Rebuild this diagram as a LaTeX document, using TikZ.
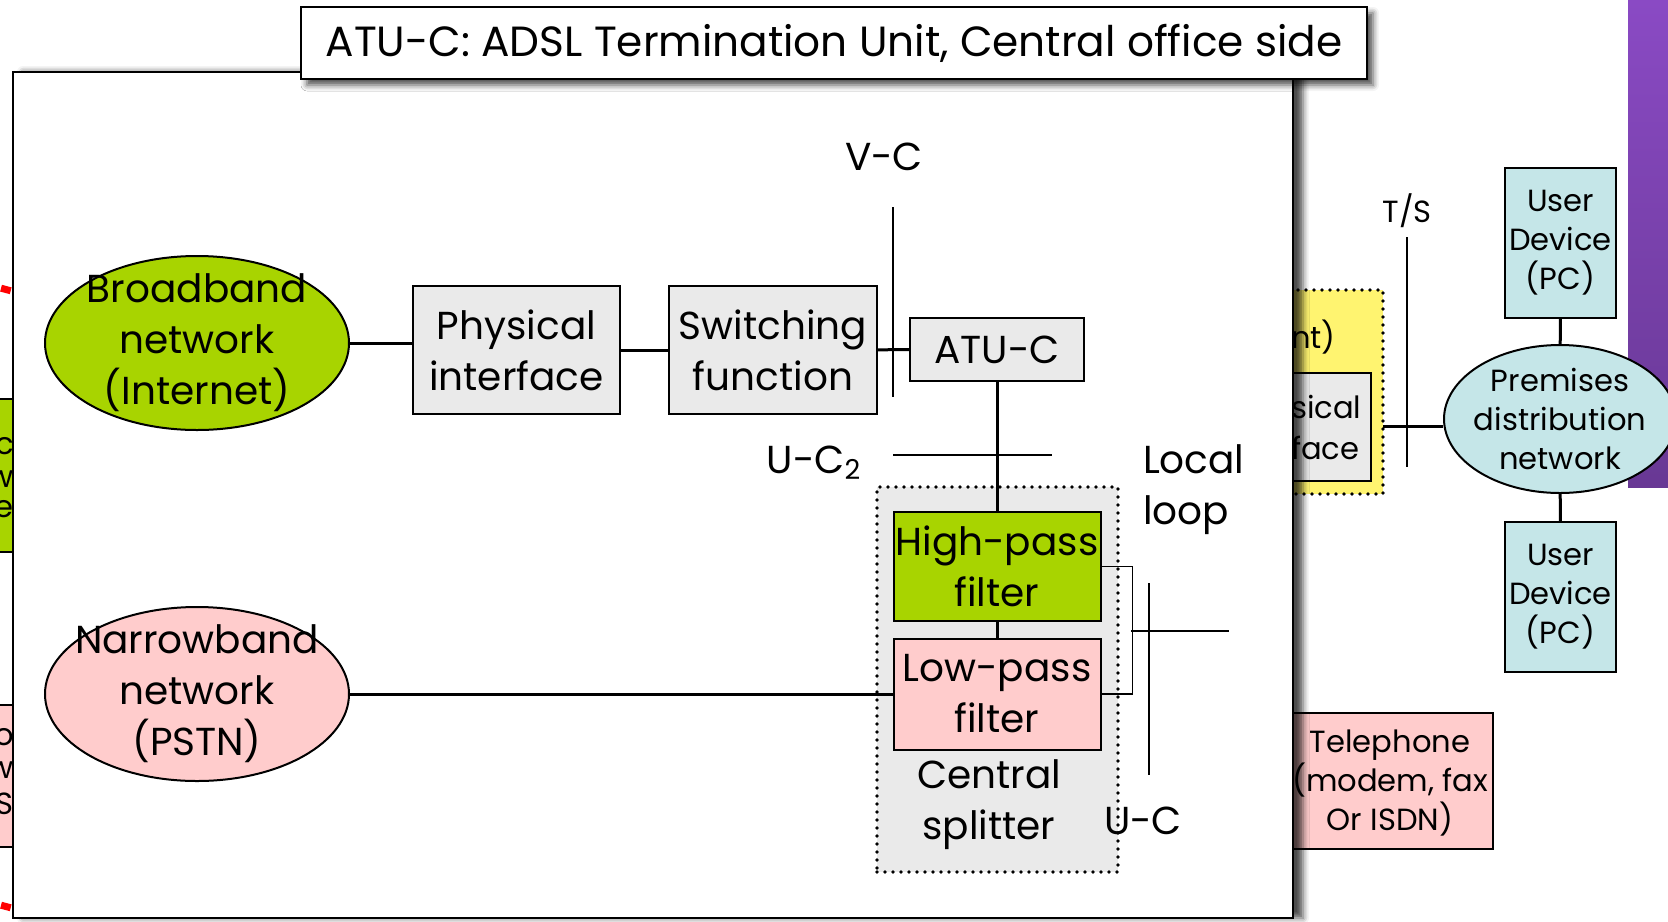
\documentclass[tikz,border=0pt]{standalone}
\usepackage{fontspec}
\setmainfont{Poppins}
\usetikzlibrary{shapes.geometric,shadows.blur}

\definecolor{bbgreen}{RGB}{168,212,0}
\definecolor{nbpink}{RGB}{255,204,204}
\definecolor{boxgray}{RGB}{234,234,234}
\definecolor{devblue}{RGB}{197,230,232}
\definecolor{ntyellow}{RGB}{255,244,112}
\definecolor{slidepurple}{RGB}{138,74,196}
\definecolor{slidepurpledark}{RGB}{104,56,148}

\begin{document}
\begin{tikzpicture}[x=0.5pt,y=-0.5pt,
    big/.style={font=\fontsize{19.5}{25.5}\selectfont, align=center},
    small/.style={font=\fontsize{15.3}{19.5}\selectfont, align=center},
    netw/.style={ellipse, draw, line width=1pt, inner sep=0pt, minimum width=152pt, minimum height=87pt},
    unit/.style={rectangle, draw, line width=1pt, fill=boxgray, inner sep=0pt, big},
    dev/.style={rectangle, draw, line width=1pt, fill=devblue, inner sep=0pt, minimum width=55.5pt, minimum height=75pt, small},
    dotbox/.style={rectangle, draw, line width=1.8pt, line cap=round, dash pattern=on 0pt off 4pt, inner sep=0pt},
    link/.style={line width=1.5pt},
    refline/.style={line width=0.75pt}]
    \useasboundingbox (0,0) rectangle (1668,921);

    % slide behind the box
    \shade[top color=slidepurple, bottom color=slidepurpledark] (1628,0) rectangle (1668,487);
    \fill[red, rotate around={-15:(6,289)}] (1,286) rectangle (11,293);
    \fill[red, rotate around={-15:(6,906)}] (1,903) rectangle (11,910);
    \fill[bbgreen] (0,399) rectangle (20,552);
    \draw[line width=1pt] (0,399) -- (20,399) (0,552) -- (20,552);
    \fill[nbpink] (0,705) rectangle (20,847);
    \draw[line width=1pt] (0,705) -- (20,705) (0,847) -- (20,847);
    \node[small, anchor=east] (gra) at (21,446) {ac};
    \node[small, anchor=east] (grb) at (21,479) {rw};
    \node[small, anchor=east] (grc) at (21,509) {e};
    \node[small, anchor=east] (pka) at (21,737) {o};
    \node[small, anchor=east] (pkb) at (21,770) {rw};
    \node[small, anchor=east] (pkc) at (21,804) {S};

    \node[dotbox, fill=ntyellow, minimum width=91.5pt, minimum height=102pt] (atur) at (1291.5,392) {};
    \node[small, anchor=west] (aturlbl) at (1284,337) {nt)};
    \draw[line width=1pt, fill=boxgray] (1200,373) rectangle (1371,481);
    \node[small, anchor=west] (physa) at (1284,407) {sical};
    \node[small, anchor=west] (physb) at (1284,448) {face};
    \node[netw, fill=devblue, minimum width=116pt, minimum height=74pt,
        label={[small]center:Premises\\distribution\\network}] (prem) at (1560,419) {};
    \node[dev] (uda) at (1560.5,243) {User\\Device\\(PC)};
    \node[dev] (udb) at (1560.5,597) {User\\Device\\(PC)};
    \draw[line width=1pt, fill=nbpink] (1200,713) rectangle (1493,849);
    \node[small] (phone) at (1390,783) {Telephone\\(modem, fax\\Or ISDN)};
    \coordinate (ntout) at (1383,426);
    \draw[link] (ntout) -- (ntout -| prem.west);
    \draw[link] (prem) -- (uda);
    \draw[link] (prem) -- (udb);
    \coordinate (tstop) at (1407,237);
    \coordinate (tsbot) at (1407,467);
    \draw[refline] (tstop) -- (tsbot);
    \node[small] (tslbl) at (1407,211) {T/S};

    % the box itself
    \fill[white, blur shadow={shadow xshift=5pt, shadow yshift=0pt, shadow blur radius=3pt, shadow opacity=70}] (13,72) rectangle (1293,918);
    \draw[line width=1pt] (13,72) rectangle (1293,918);
    \node[rectangle, draw, line width=1pt, fill=white, minimum width=533pt, minimum height=36pt, inner sep=0pt,
        blur shadow={shadow xshift=3pt, shadow yshift=-3pt, shadow blur radius=3pt, shadow opacity=70},
        font=\fontsize{21.1}{25.5}\selectfont] (title) at (834,43)
        {ATU-C: ADSL Termination Unit, Central office side};

    \node[netw, fill=bbgreen, label={[big]center:Broadband\\network\\(Internet)}] (bb) at (197,343) {};
    \node[netw, fill=nbpink, label={[big]center:Narrowband\\network\\(PSTN)}] (nb) at (197,694) {};
    \node[unit, minimum width=103.5pt, minimum height=64pt] (phys) at (516.5,350) {Physical\\interface};
    \node[unit, minimum width=104pt, minimum height=64pt] (sw) at (773,350) {Switching\\function};
    \node[unit, minimum width=87pt, minimum height=31.5pt] (atuc) at (997,349.5) {ATU-C};
    \node[dotbox, fill=boxgray, minimum width=120.5pt, minimum height=192.5pt] (split) at (997.5,679.5) {};
    \node[unit, fill=bbgreen, minimum width=103.5pt, minimum height=54.5pt] (hp) at (997,566.5) {High-pass\\filter};
    \node[unit, fill=nbpink, minimum width=103.5pt, minimum height=55.5pt] (lp) at (997,694) {Low-pass\\filter};
    \node[big] (splitlbl) at (989,805) {Central\\splitter};

    \draw[link] (bb.east) -- (bb.east -| phys.west);
    \draw[link] (phys) -- (sw);
    \draw[link] (sw) -- (atuc);
    \draw[link] (atuc) -- (hp);
    \draw[link] (hp) -- (lp);
    \draw[link] (nb) -- (lp);

    % reference points
    \coordinate (vctop) at (893,207);
    \coordinate (vcbot) at (893,397);
    \draw[refline] (vctop) -- (vcbot);
    \node[big] (vclbl) at (884,157) {V-C};
    \coordinate (uc2l) at (893,455);
    \coordinate (uc2r) at (1052,455);
    \draw[refline] (uc2l) -- (uc2r);
    \node[big] (uc2lbl) at (814,463) {U-C\textsubscript{2}};
    \draw[refline] (hp.east) -- ++(31,0) |- (lp.east);
    \coordinate (loopmid) at (1131,631);
    \coordinate (loopend) at (1229,631);
    \draw[refline] (loopmid) -- (loopend);
    \coordinate (uctop) at (1149,583);
    \coordinate (ucbot) at (1149,775);
    \draw[refline] (uctop) -- (ucbot);
    \node[big] (uclbl) at (1143,821) {U-C};
    \node[big, align=left, anchor=west] (looplbl) at (1136,490) {Local\\loop};
\end{tikzpicture}
\end{document}
